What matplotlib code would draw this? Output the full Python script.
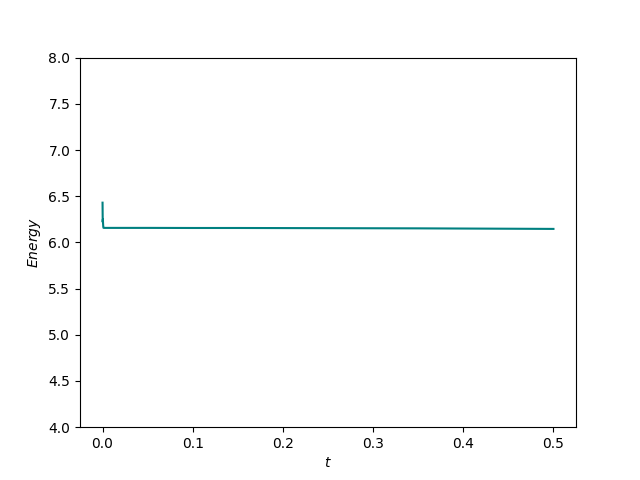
import matplotlib
matplotlib.use("Agg")
import matplotlib.pyplot as plt

t = [0.0, 0.0002, 0.0004, 0.0006, 0.0008, 0.001, 0.002, 0.05, 0.1, 0.15, 0.2, 0.25, 0.3, 0.35, 0.4, 0.45, 0.5]
energy = [6.43, 6.22, 6.25, 6.20, 6.17, 6.158, 6.157, 6.157, 6.156, 6.156, 6.155, 6.154, 6.153, 6.152, 6.150, 6.148, 6.146]

fig, ax = plt.subplots(figsize=(6.4, 4.8), dpi=100)
ax.plot(t, energy, color="teal")
ax.set_ylim(4, 8)
ax.set_xlabel("$t$")
ax.set_ylabel("$Energy$")
fig.savefig("out.png")
